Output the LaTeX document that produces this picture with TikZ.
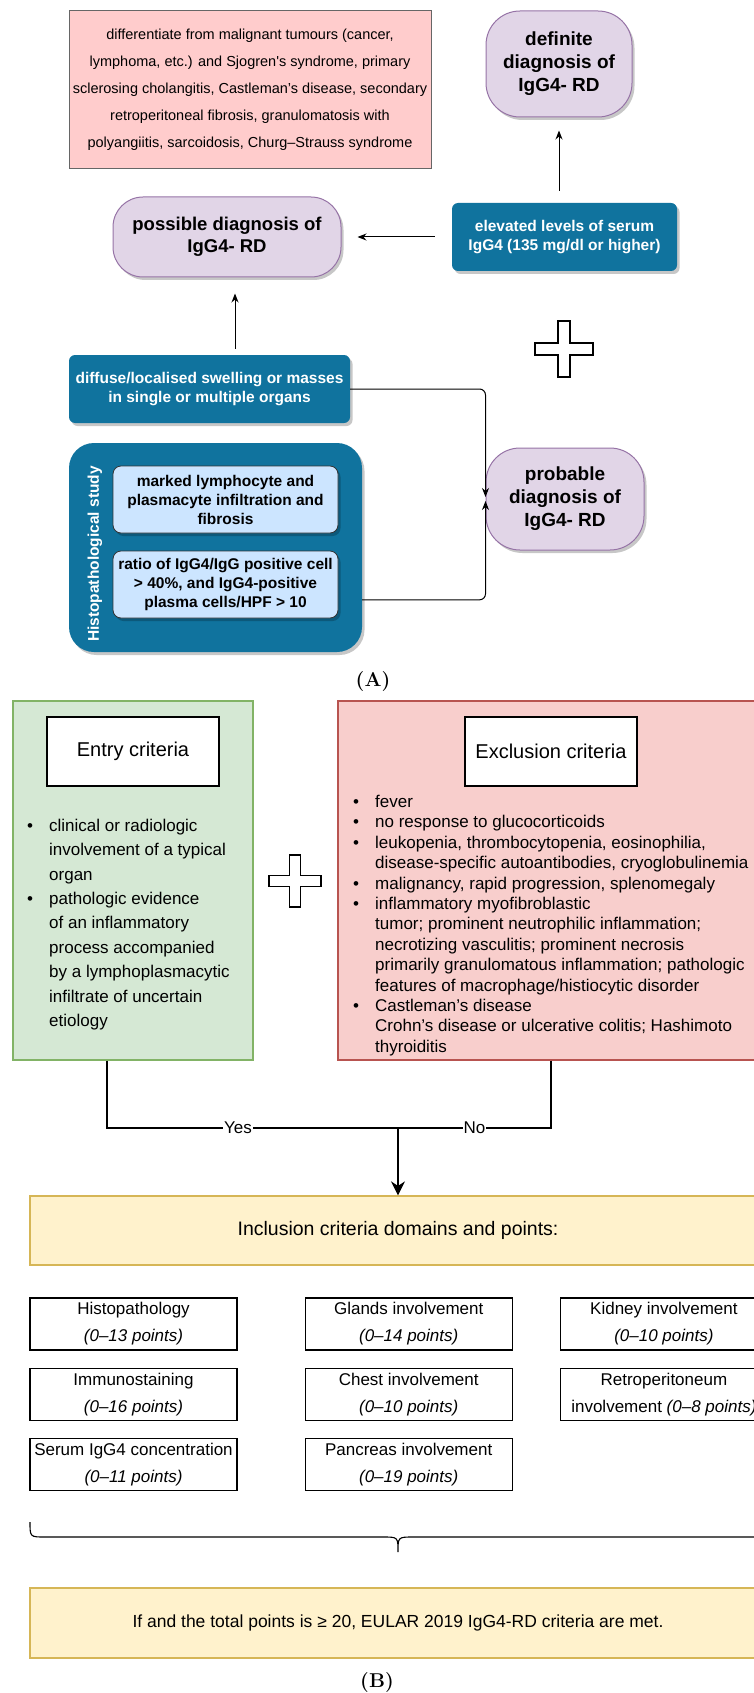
\documentclass[tikz,border=0pt]{standalone}
\usepackage{fontspec}
\setsansfont{Liberation Sans}
\usetikzlibrary{positioning,arrows.meta,calc,shadows}
\definecolor{notepink}{HTML}{FFCCCC}
\definecolor{diagfill}{HTML}{E1D5E7}
\definecolor{diagline}{HTML}{9673A6}
\definecolor{findblue}{HTML}{10739E}
\definecolor{subblue}{HTML}{CCE5FF}
\definecolor{entryfill}{HTML}{D5E8D4}
\definecolor{entryline}{HTML}{82B366}
\definecolor{exclfill}{HTML}{F8CECC}
\definecolor{exclline}{HTML}{B85450}
\definecolor{bandfill}{HTML}{FFF2CC}
\definecolor{bandline}{HTML}{D6B656}
\newcommand{\fsz}[2]{\fontsize{#1}{#2}\selectfont}
\newcommand{\itm}{\makebox[22pt][l]{\textbullet}}
\newcommand{\cnt}{\hspace*{22pt}}

\begin{document}
\begin{tikzpicture}[
  x=1pt, y=-1pt, font=\sffamily,
  boxshadow/.style={drop shadow={shadow xshift=2.5pt, shadow yshift=-3pt, fill=black, opacity=.22}},
  notebox/.style={draw=black!60, line width=1pt, fill=notepink, minimum width=362pt, minimum height=158pt, align=center, font=\sffamily\fsz{14.5}{27}},
  diag/.style={boxshadow, draw=diagline, fill=diagfill, line width=1pt, rounded corners=34pt, align=center, font=\sffamily\bfseries\fsz{19}{23}},
  finding/.style={boxshadow, fill=findblue, text=white, rounded corners=6pt, minimum height=68pt, align=center, font=\sffamily\bfseries\fsz{15.5}{19}},
  subfinding/.style={boxshadow, draw=black!80, fill=subblue, line width=.8pt, rounded corners=8pt, minimum width=225pt, minimum height=67pt, align=center, font=\sffamily\bfseries\fsz{15.5}{19}},
  container/.style={boxshadow, fill=findblue, rounded corners=25pt, minimum width=293pt, minimum height=209pt},
  link/.style={-{Stealth[length=9pt,width=7pt]}, line width=1pt},
  wire/.style={line width=1.1pt},
  plusmark/.style={draw, fill=white, line width=1.1pt},
  panel/.style={line width=1.3pt, minimum height=359pt},
  heading/.style={draw, fill=white, line width=1.3pt, minimum width=172pt, minimum height=69pt, font=\sffamily\fsz{20}{24}},
  bullets/.style={anchor=west, align=left, inner sep=0pt},
  yesno/.style={fill=white, inner sep=1pt, font=\sffamily\fsz{17}{20}},
  band/.style={draw=bandline, fill=bandfill, line width=1.3pt, minimum width=736pt, font=\sffamily\fsz{19.5}{24}},
  domainbox/.style={draw, line width=1.2pt, minimum width=207pt, minimum height=52pt, align=center, font=\sffamily\fsz{17}{27}},
  caption/.style={font=\rmfamily\bfseries\fsz{20}{22}},
]
  \useasboundingbox (0,0) rectangle (753,1693);

  % (A) possible / probable / definite
  \node[notebox] (differential) at (250,90) {differentiate from malignant tumours (cancer,\\lymphoma, etc.) and Sjogren\textquotesingle s syndrome, primary\\sclerosing cholangitis, Castleman’s disease, secondary\\retroperitoneal fibrosis, granulomatosis with\\polyangiitis, sarcoidosis, Churg–Strauss syndrome};
  \node[diag, minimum width=146pt, minimum height=106pt] (definite) at (559,64) {definite\\diagnosis of\\IgG4- RD};
  \node[diag, minimum width=228pt, minimum height=80pt, rounded corners=30pt, font=\sffamily\bfseries\fsz{18.5}{22}] (possible) at (227,237) {possible diagnosis of\\IgG4- RD};
  \node[finding, minimum width=225pt] (elevated) at (564.5,237) {elevated levels of serum\\IgG4 (135 mg/dl or higher)};
  \node[finding, minimum width=281pt] (diffuse) at (209.5,389) {diffuse/localised swelling or masses\\in single or multiple organs};
  \node[container] (histo) at (215.5,547.5) {};
  \node[subfinding] (infiltrate) at (225.5,499.5) {marked lymphocyte and\\plasmacyte infiltration and\\fibrosis};
  \node[subfinding] (ratio) at (225.5,584.5) {ratio of IgG4/IgG positive cell\\> 40\%, and IgG4-positive\\plasma cells/HPF > 10};
  \node[rotate=90, text=white, font=\sffamily\bfseries\fsz{15.5}{18}] (histolabel) at (95,554) {Histopathological study};
  \node[diag, minimum width=158pt, minimum height=102pt] (probable) at (565,499) {probable\\diagnosis of\\IgG4- RD};

  \draw[plusmark, shift={(564,349)}] (-6,-28) -- (6,-28) -- (6,-6) -- (29,-6) -- (29,6) -- (6,6) -- (6,28) -- (-6,28) -- (-6,6) -- (-29,6) -- (-29,-6) -- (-6,-6) -- cycle;

  \draw[link, shorten <=17pt, shorten >=16pt] (elevated) -- (possible);
  \draw[link, shorten <=12pt, shorten >=13pt] (definite.south |- elevated.north) -- (definite.south);
  \draw[link, shorten <=6pt, shorten >=16pt] ([xshift=25.5pt]diffuse.north) -- ([xshift=25.5pt]diffuse.north |- possible.south);
  \draw[link, rounded corners=6pt, shorten >=2pt] (diffuse) -| (probable.west);
  \draw[link, rounded corners=6pt, shorten >=2pt] ($(histo.south east)!0.25!(histo.north east)$) -| (probable.west);

  \node[caption] (capA) at (373,682) {(A)};

  % (B) EULAR 2019 criteria
  \node[panel, draw=entryline, fill=entryfill, minimum width=240pt] (entry) at (133,880.5) {};
  \node[panel, draw=exclline, fill=exclfill, minimum width=426pt] (exclusion) at (551,880.5) {};
  \node[heading, below=16pt of entry.north] (entrytitle) {Entry criteria};
  \node[heading, below=16pt of exclusion.north] (excltitle) {Exclusion criteria};
  \node[bullets, font=\sffamily\fsz{17}{24.4}] (entrylist) at (27,924.5) {\itm clinical or radiologic\\\cnt involvement of a typical\\\cnt organ\\\itm pathologic evidence\\\cnt of an inflammatory\\\cnt process accompanied\\\cnt by a lymphoplasmacytic\\\cnt infiltrate of uncertain\\\cnt etiology};
  \node[bullets, font=\sffamily\fsz{17}{20.4}] (excllist) at (353,925.5) {\itm fever\\\itm no response to glucocorticoids\\\itm leukopenia, thrombocytopenia, eosinophilia,\\\cnt disease-specific autoantibodies, cryoglobulinemia\\\itm malignancy, rapid progression, splenomegaly\\\itm inflammatory myofibroblastic\\\cnt tumor; prominent neutrophilic inflammation;\\\cnt necrotizing vasculitis; prominent necrosis\\\cnt primarily granulomatous inflammation; pathologic\\\cnt features of macrophage/histiocytic disorder\\\itm Castleman’s disease\\\cnt Crohn’s disease or ulcerative colitis; Hashimoto\\\cnt thyroiditis};
  \draw[plusmark, shift={(295,881)}] (-5.5,-26) -- (5.5,-26) -- (5.5,-5.5) -- (26,-5.5) -- (26,5.5) -- (5.5,5.5) -- (5.5,26) -- (-5.5,26) -- (-5.5,5.5) -- (-26,5.5) -- (-26,-5.5) -- (-5.5,-5.5) -- cycle;

  \node[band, minimum height=69pt] (inclusion) at (398,1230.5) {Inclusion criteria domains and points:};
  \coordinate (split) at (398,1128);
  \draw[wire] ([xshift=-26pt]entry.south) |- node[pos=.725, yesno] {Yes} (split);
  \draw[wire] (exclusion.south) |- node[pos=.75, yesno] {No} (split);
  \draw[wire, -{Stealth[length=14pt,width=14pt]}] (split) -- (inclusion.north);

  \node[domainbox] (histopath) at (133.5,1324) {Histopathology\\\textit{(0–13 points)}};
  \node[domainbox, right=67pt of histopath] (glands) {Glands involvement\\\textit{(0–14 points)}};
  \node[domainbox, right=47pt of glands] (kidney) {Kidney involvement\\\textit{(0–10 points)}};
  \node[domainbox, below=17pt of histopath] (immuno) {Immunostaining\\\textit{(0–16 points)}};
  \node[domainbox, below=17pt of glands] (chest) {Chest involvement\\\textit{(0–10 points)}};
  \node[domainbox, below=17pt of kidney] (retro) {Retroperitoneum\\involvement \textit{(0–8 points)}};
  \node[domainbox, below=17pt of immuno] (serum) {Serum IgG4 concentration\\\textit{(0–11 points)}};
  \node[domainbox, below=17pt of chest] (pancreas) {Pancreas involvement\\\textit{(0–19 points)}};

  \draw[wire] (30,1522) .. controls (30,1537) .. (45,1537) -- (383,1537) .. controls (398,1537) .. (398,1552) .. controls (398,1537) .. (413,1537) -- (751,1537) .. controls (766,1537) .. (766,1522);

  \node[band, minimum height=70pt, font=\sffamily\fsz{17.5}{21}] (verdict) at (398,1623) {If and the total points is ≥ 20, EULAR 2019 IgG4-RD criteria are met.};
  \node[caption] (capB) at (377,1682) {(B)};
\end{tikzpicture}
\end{document}
